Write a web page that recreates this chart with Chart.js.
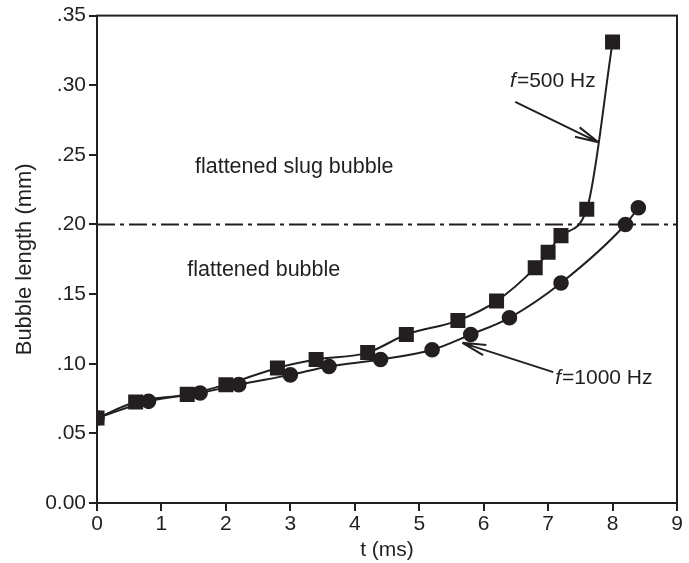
<!DOCTYPE html>
<html>
<head>
<meta charset="utf-8">
<script src="https://cdn.jsdelivr.net/npm/chart.js@4.4.1/dist/chart.umd.min.js"></script>
<style>
  html, body { margin: 0; padding: 0; background: #fff; }
  #wrap { width: 689px; height: 563px; }
</style>
</head>
<body>
<div id="wrap"><canvas id="bubbleChart" width="689" height="563"></canvas></div>
<script>
// f = 500 Hz (squares)
const t500 = [0, 0.6, 1.4, 2.0, 2.8, 3.4, 4.2, 4.8, 5.6, 6.2, 6.8, 7.0, 7.2, 7.6, 8.0];
const len500 = [0.061, 0.0725, 0.078, 0.085, 0.097, 0.103, 0.108, 0.121, 0.131, 0.145, 0.169, 0.180, 0.192, 0.211, 0.331];

// f = 1000 Hz (circles)
const t1000 = [0, 0.8, 1.6, 2.2, 3.0, 3.6, 4.4, 5.2, 5.8, 6.4, 7.2, 8.2, 8.4];
const len1000 = [0.061, 0.073, 0.079, 0.085, 0.092, 0.098, 0.103, 0.110, 0.121, 0.133, 0.158, 0.200, 0.212];

const transitionLength = 0.20;
const xTicks = [0, 1, 2, 3, 4, 5, 6, 7, 8, 9];
const yTicks = [0, 0.05, 0.10, 0.15, 0.20, 0.25, 0.30, 0.35];

const ink = "#231f20";
const font = "Liberation Sans, Arial, Helvetica, sans-serif";

function toPoints(xs, ys) {
  return xs.map((x, i) => ({ x: x, y: ys[i] }));
}

// рамка, штрихпунктир, підписи і стрілки
const decorations = {
  id: "decorations",
  afterDatasetsDraw(chart) {
    const ctx = chart.ctx;
    const xs = chart.scales.x;
    const ys = chart.scales.y;
    const area = chart.chartArea;
    const px = (v) => xs.getPixelForValue(v);
    const py = (v) => ys.getPixelForValue(v);

    ctx.save();
    ctx.strokeStyle = ink;
    ctx.lineWidth = 2;
    ctx.strokeRect(area.left, area.top, area.right - area.left, area.bottom - area.top);

    // штрихпунктирна лінія
    ctx.lineWidth = 2;
    ctx.setLineDash([18, 5, 4, 5]);
    ctx.beginPath();
    ctx.moveTo(area.left, py(transitionLength));
    ctx.lineTo(area.right, py(transitionLength));
    ctx.stroke();
    ctx.setLineDash([]);

    ctx.fillStyle = ink;
    ctx.textBaseline = "middle";
    ctx.textAlign = "left";
    ctx.font = "21.5px " + font;
    ctx.fillText("flattened slug bubble", px(1.52), py(0.241));
    ctx.fillText("flattened bubble", px(1.40), py(0.167));

    function label(x, y, rest) {
      let left = px(x);
      ctx.font = "italic 21px " + font;
      ctx.fillText("f", left, py(y));
      left += ctx.measureText("f").width + 1;
      ctx.font = "21px " + font;
      ctx.fillText(rest, left, py(y));
    }
    label(6.41, 0.303, "=500 Hz");
    label(7.11, 0.0897, "=1000 Hz");

    function arrow(x0, y0, x1, y1) {
      const a = px(x0), b = py(y0), c = px(x1), d = py(y1);
      const ang = Math.atan2(d - b, c - a);
      ctx.lineWidth = 2;
      ctx.beginPath();
      ctx.moveTo(a, b);
      ctx.lineTo(c, d);
      const head = 24, spread = 0.22;
      ctx.moveTo(c, d);
      ctx.lineTo(c - head * Math.cos(ang - spread), d - head * Math.sin(ang - spread));
      ctx.moveTo(c, d);
      ctx.lineTo(c - head * Math.cos(ang + spread), d - head * Math.sin(ang + spread));
      ctx.stroke();
    }
    arrow(6.49, 0.288, 7.78, 0.259);
    arrow(7.08, 0.094, 5.67, 0.115);
    ctx.restore();
  },
};

const ctx = document.getElementById("bubbleChart").getContext("2d");
new Chart(ctx, {
  type: "scatter",
  data: {
    datasets: [
      {
        label: "f=500 Hz",
        data: toPoints(t500, len500),
        showLine: true,
        borderColor: ink,
        backgroundColor: ink,
        borderWidth: 2,
        pointStyle: "rect",
        pointRadius: 9.2,
        cubicInterpolationMode: "monotone",
      },
      {
        label: "f=1000 Hz",
        data: toPoints(t1000, len1000),
        showLine: true,
        borderColor: ink,
        backgroundColor: ink,
        borderWidth: 2,
        pointStyle: "circle",
        pointRadius: 6.8,
        cubicInterpolationMode: "monotone",
      },
    ],
  },
  options: {
    responsive: false,
    animation: false,
    devicePixelRatio: 1,
    layout: { padding: { top: 15, right: 12, left: 0, bottom: 0 } },
    plugins: { legend: { display: false }, tooltip: { enabled: false } },
    scales: {
      x: {
        type: "linear",
        min: 0,
        max: 9,
        afterBuildTicks: (s) => { s.ticks = xTicks.map((v) => ({ value: v })); },
        afterFit: (s) => { s.height = 60; },
        ticks: { color: ink, font: { family: font, size: 21 }, padding: 1 },
        grid: { drawOnChartArea: false, drawTicks: true, tickLength: 8, color: ink, lineWidth: 2 },
        border: { display: true, color: ink, width: 2 },
        title: { display: true, text: "t (ms)", color: ink, font: { family: font, size: 21 }, padding: { top: 0, bottom: 0 } },
      },
      y: {
        type: "linear",
        min: 0,
        max: 0.35,
        afterBuildTicks: (s) => { s.ticks = yTicks.map((v) => ({ value: v })); },
        afterFit: (s) => { s.width = 97; },
        ticks: {
          color: ink,
          font: { family: font, size: 21 },
          padding: 3,
          callback: (v) => (v === 0 ? "0.00" : v.toFixed(2).replace(/^0/, "")),
        },
        grid: { drawOnChartArea: false, drawTicks: true, tickLength: 8, color: ink, lineWidth: 2 },
        border: { display: true, color: ink, width: 2 },
        title: { display: true, text: "Bubble length (mm)", color: ink, font: { family: font, size: 22 }, padding: { top: 12, bottom: 4 } },
      },
    },
  },
  plugins: [decorations],
});
</script>
</body>
</html>
